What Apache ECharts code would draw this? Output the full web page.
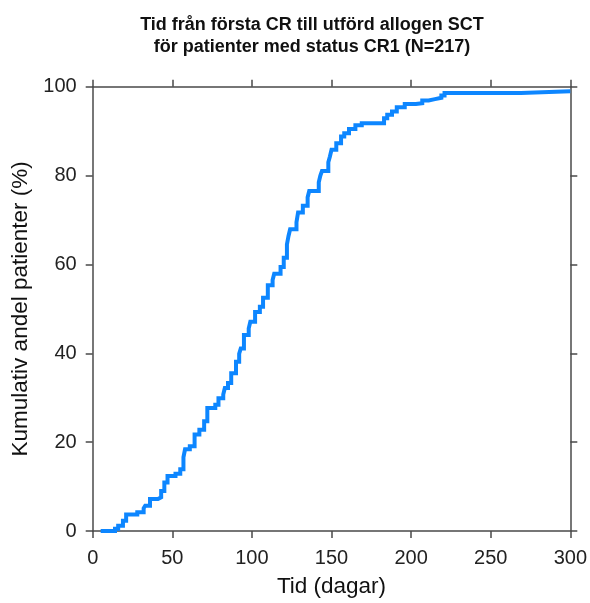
<!DOCTYPE html>
<html>
<head>
<meta charset="utf-8">
<script src="https://cdn.jsdelivr.net/npm/echarts@6/dist/echarts.min.js"></script>
<style>
  html, body { margin: 0; padding: 0; background: #fff; }
  #chart { width: 590px; height: 603px; }
</style>
</head>
<body>
<div id="chart"></div>
<script>
"use strict";

// dagar från första CR och kumulativ andel (%) efter varje steg
const days = [5, 14, 16, 19, 21, 28, 32, 33, 36, 41, 43, 45, 47, 52, 55, 57, 58, 61, 64, 67,
  70, 72, 77, 79, 82, 83, 85, 87, 90, 92, 93, 95, 98, 99, 102, 105, 107, 110, 113, 114,
  118, 120, 122, 123, 124, 128, 129, 132, 135, 136, 142, 143, 144, 148, 149, 150, 153, 156, 158, 161,
  165, 169, 183, 185, 188, 191, 196, 203, 207, 211, 215, 219, 221, 269, 300];
const cumPct = [0, 0.5, 1.2, 2.3, 3.7, 4.2, 5.1, 5.7, 7.2, 7.6, 9.0, 10.9, 12.4, 12.9, 13.9, 16.6, 18.4, 19.1, 21.7, 22.8,
  24.7, 27.7, 28.4, 29.9, 30.7, 32.2, 33.3, 35.5, 38.1, 39.9, 41.1, 44.1, 45.6, 47.1, 49.3, 50.5, 52.5, 55.3, 56.5, 57.9,
  59.4, 61.5, 64.5, 66.4, 67.9, 69.5, 71.7, 73.2, 75.1, 76.5, 78.5, 80.0, 81.0, 83.0, 84.3, 85.8, 87.3, 88.8, 89.5, 90.5,
  91.3, 91.8, 92.9, 93.7, 94.4, 95.4, 96.1, 96.3, 96.9, 97.2, 97.5, 98.0, 98.6, 99.0, 99.0];

const xTicks = [0, 50, 100, 150, 200, 250, 300];
const yTicks = [0, 20, 40, 60, 80, 100];

const titleLines = ["Tid från första CR till utförd allogen SCT", "för patienter med status CR1 (N=217)"];
const xName = "Tid (dagar)";
const yName = "Kumulativ andel patienter (%)";

const FONT = "'Liberation Sans', Arial, sans-serif";
const AXIS_COL = "#4a4a4a";
const LINE_COL = "#0d86ff";

// trappstegskurva: håll föregående värde fram till nästa dag, sedan hopp
const stepData = [];
days.forEach((d, i) => {
  if (i > 0) stepData.push([d, cumPct[i - 1]]);
  stepData.push([d, cumPct[i]]);
});

const chart = echarts.init(document.getElementById("chart"));

function frameAxis(extra) {
  return Object.assign({
    type: "value",
    axisLine: { show: true, onZero: false, lineStyle: { color: AXIS_COL, width: 1.5 } },
    axisTick: { show: true, inside: false, length: 7, lineStyle: { color: AXIS_COL, width: 1.5 } },
    splitLine: { show: false }
  }, extra);
}

chart.setOption({
  backgroundColor: "#fff",
  animation: false,
  title: {
    text: titleLines.join("\n"),
    left: 307, top: 9, textAlign: "center",
    textStyle: { fontFamily: FONT, fontSize: 18, fontWeight: "bold", color: "#111", lineHeight: 22 }
  },
  grid: { left: 92.7, right: 17.3, top: 86.7, bottom: 69.3, containLabel: false },
  xAxis: [
    frameAxis({
      position: "bottom", min: xTicks[0], max: xTicks[xTicks.length - 1], interval: 50,
      name: xName, nameLocation: "middle", nameGap: 44,
      nameTextStyle: { fontFamily: FONT, fontSize: 22.5, color: "#111" },
      axisLabel: { show: true, margin: 17, fontFamily: FONT, fontSize: 20, color: "#222" }
    }),
    frameAxis({
      position: "top", min: xTicks[0], max: xTicks[xTicks.length - 1], interval: 50,
      axisLabel: { show: false }
    })
  ],
  yAxis: [
    frameAxis({
      position: "left", min: yTicks[0], max: yTicks[yTicks.length - 1], interval: 20,
      name: yName, nameLocation: "middle", nameGap: 57, nameRotate: 90,
      nameTextStyle: { fontFamily: FONT, fontSize: 22.5, color: "#111" },
      axisLabel: { show: true, margin: 16, fontFamily: FONT, fontSize: 20, color: "#222" }
    }),
    frameAxis({
      position: "right", min: yTicks[0], max: yTicks[yTicks.length - 1], interval: 20,
      axisLabel: { show: false }
    })
  ],
  series: [{
    type: "line",
    xAxisIndex: 0, yAxisIndex: 0,
    data: stepData,
    symbol: "none",
    lineStyle: { color: LINE_COL, width: 4, join: "miter" },
    itemStyle: { color: LINE_COL }
  }]
});
</script>
</body>
</html>
